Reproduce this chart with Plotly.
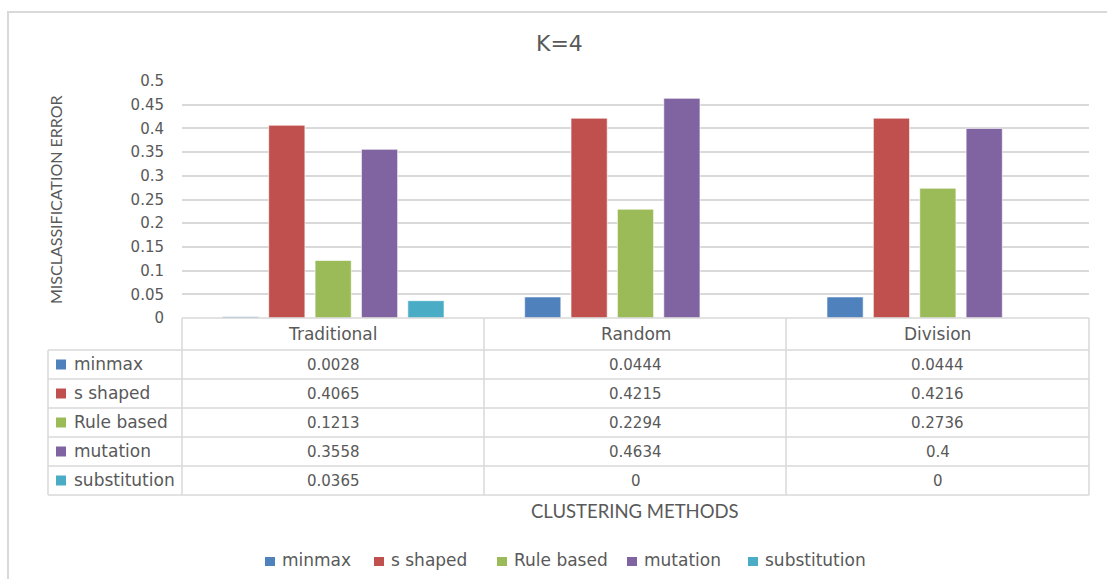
import plotly.graph_objects as go

# ---- data ----
categories = ["Traditional", "Random", "Division"]
series_names = ["minmax", "s shaped", "Rule based", "mutation", "substitution"]
minmax = [0.0028, 0.0444, 0.0444]
s_shaped = [0.4065, 0.4215, 0.4216]
rule_based = [0.1213, 0.2294, 0.2736]
mutation = [0.3558, 0.4634, 0.4]
substitution = [0.0365, 0, 0]
colors = ["#4F81BD", "#C0504D", "#9BBB59", "#8064A2", "#4BACC6"]
title = "K=4"
y_title = "MISCLASSIFICATION ERROR"
x_title = "CLUSTERING METHODS"

series_values = [minmax, s_shaped, rule_based, mutation, substitution]

W, H = 1107, 579


def px(x):
    return x / W


def py(y):
    return 1 - y / H


TXT = "#595959"
GRID = "#d9d9d9"
FONT = "DejaVu Sans"

fig = go.Figure()
for name, vals, col in zip(series_names, series_values, colors):
    fig.add_trace(go.Bar(
        name=name, x=categories, y=vals, showlegend=False,
        marker=dict(color=col, line=dict(color="rgba(255,255,255,0.6)", width=1)),
    ))

# plot area in pixels
x0, x1 = 182, 1089
y_top, y_bot = 81, 318

shapes = []
annotations = []

# chart border
shapes.append(dict(type="rect", xref="paper", yref="paper",
                   x0=px(8), x1=px(1115), y0=py(12), y1=py(600),
                   line=dict(color=GRID, width=2)))

# data table geometry
col_edges = [182, 484, 786, 1089]
row_edges = [318, 350, 379, 408, 437, 466, 495]
tbl_left = 48

shapes.append(dict(type="line", xref="paper", yref="paper",
                   x0=px(182), x1=px(1089), y0=py(318), y1=py(318),
                   line=dict(color=GRID, width=1.5)))
for r in row_edges[1:]:
    shapes.append(dict(type="line", xref="paper", yref="paper",
                       x0=px(tbl_left), x1=px(1089), y0=py(r), y1=py(r),
                       line=dict(color=GRID, width=1.5)))
for c in col_edges:
    shapes.append(dict(type="line", xref="paper", yref="paper",
                       x0=px(c), x1=px(c), y0=py(318), y1=py(495),
                       line=dict(color=GRID, width=1.5)))
shapes.append(dict(type="line", xref="paper", yref="paper",
                   x0=px(tbl_left), x1=px(tbl_left), y0=py(350), y1=py(495),
                   line=dict(color=GRID, width=1.5)))

# header text
for cat in categories:
    annotations.append(dict(x=cat, xref="x", y=py(334), yref="paper",
                            text=cat, showarrow=False,
                            font=dict(family=FONT, size=17, color=TXT),
                            xanchor="center", yanchor="middle"))

# table rows
for i, (name, vals, col) in enumerate(zip(series_names, series_values, colors)):
    yc = (row_edges[i + 1] + row_edges[i + 2]) / 2
    shapes.append(dict(type="rect", xref="paper", yref="paper",
                       x0=px(56), x1=px(66), y0=py(yc - 5), y1=py(yc + 5),
                       fillcolor=col, line=dict(width=0)))
    annotations.append(dict(x=px(72), xref="paper", y=py(yc - 1), yref="paper",
                            text=name, showarrow=False,
                            font=dict(family=FONT, size=17, color=TXT),
                            xanchor="left", yanchor="middle"))
    for cat, v in zip(categories, vals):
        annotations.append(dict(x=cat, xref="x", y=py(yc), yref="paper",
                                text=f"{v:g}", showarrow=False,
                                font=dict(family=FONT, size=15, color=TXT),
                                xanchor="center", yanchor="middle"))

# legend (bottom)
legend_x = [265, 374, 497, 627, 748]
legend_y = 561
for lx, name, col in zip(legend_x, series_names, colors):
    shapes.append(dict(type="rect", xref="paper", yref="paper",
                       x0=px(lx), x1=px(lx + 10), y0=py(legend_y - 4), y1=py(legend_y + 5),
                       fillcolor=col, line=dict(width=0)))
    annotations.append(dict(x=px(lx + 15), xref="paper", y=py(legend_y - 1), yref="paper",
                            text=name, showarrow=False,
                            font=dict(family=FONT, size=17, color=TXT),
                            xanchor="left", yanchor="middle"))

# titles
annotations.append(dict(x=px(559), xref="paper", y=py(44), yref="paper",
                        text=title, showarrow=False,
                        font=dict(family=FONT, size=22, color=TXT),
                        xanchor="center", yanchor="middle"))
annotations.append(dict(x=px(55), xref="paper", y=py(200), yref="paper",
                        text=y_title, showarrow=False, textangle=-90,
                        font=dict(family="Lato", size=16, color=TXT),
                        xanchor="center", yanchor="middle"))
annotations.append(dict(x=px(635), xref="paper", y=py(511), yref="paper",
                        text=x_title, showarrow=False,
                        font=dict(family="Lato", size=18.5, color=TXT),
                        xanchor="center", yanchor="middle"))

fig.update_layout(
    width=W, height=H,
    margin=dict(l=0, r=0, t=0, b=0, autoexpand=False),
    paper_bgcolor="white", plot_bgcolor="white",
    barmode="group", bargap=0.233, bargroupgap=0.22,
    showlegend=False,
    xaxis=dict(domain=[px(x0), px(x1)], showticklabels=False, automargin=False,
               showgrid=False, zeroline=False, showline=False),
    yaxis=dict(domain=[py(y_bot), py(y_top)], range=[0, 0.5], dtick=0.05,
               showgrid=True, gridcolor=GRID, gridwidth=1.5, automargin=False,
               zeroline=False, showline=False,
               tickfont=dict(family=FONT, size=15, color=TXT),
               ticklabelstandoff=17),
    shapes=shapes, annotations=annotations,
)

fig.write_html("out.html", config={"displayModeBar": False},
               post_script="document.body.style.margin='0';")
